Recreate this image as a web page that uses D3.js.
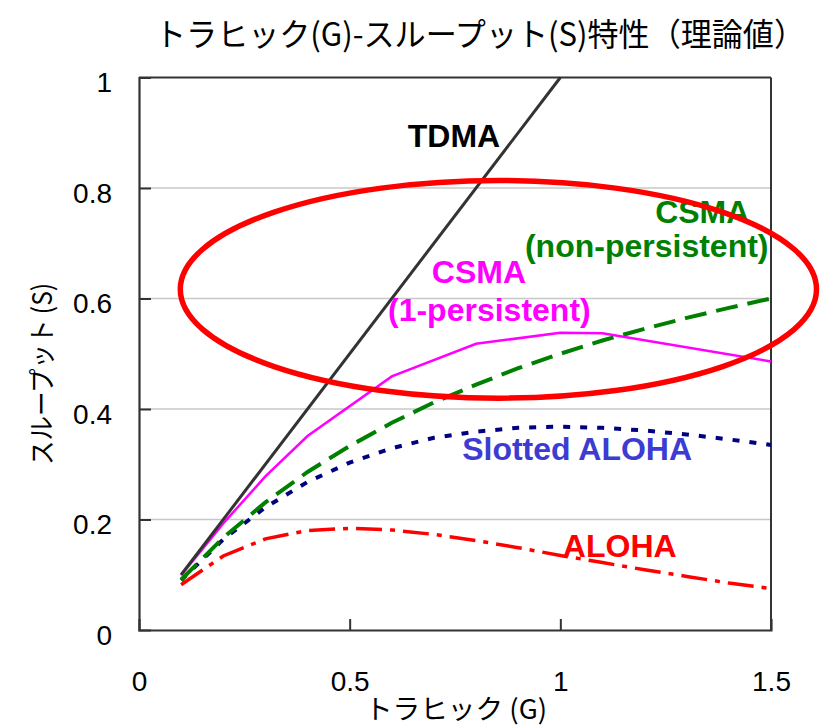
<!DOCTYPE html>
<html>
<head>
<meta charset="utf-8">
<script src="https://cdn.jsdelivr.net/npm/d3@7"></script>
<style>
  html, body { margin: 0; padding: 0; background: #fff; }
  svg { display: block; }
</style>
</head>
<body>
<svg id="chart" width="838" height="728"></svg>
<script>
// ---- data ----
const gValues = [0.1, 0.2, 0.3, 0.4, 0.5, 0.6, 0.7, 0.8, 0.9, 1.0, 1.1, 1.2, 1.3, 1.4, 1.5];
const alohaS = [0.082, 0.134, 0.165, 0.180, 0.184, 0.181, 0.173, 0.162, 0.149, 0.135, 0.122, 0.109, 0.097, 0.085, 0.075];
const slottedAlohaS = [0.090, 0.164, 0.222, 0.268, 0.303, 0.329, 0.348, 0.359, 0.366, 0.368, 0.366, 0.361, 0.354, 0.345, 0.335];
const csmaNonPersistentS = [0.091, 0.167, 0.231, 0.286, 0.333, 0.375, 0.412, 0.444, 0.474, 0.500, 0.524, 0.545, 0.565, 0.583, 0.600];
const csma1G = [0.1, 0.2, 0.3, 0.4, 0.6, 0.8, 1.0, 1.1, 1.5];
const csma1S = [0.099, 0.193, 0.278, 0.351, 0.459, 0.518, 0.538, 0.537, 0.486];
const tdmaG = [0.1, 1.0];
const tdmaS = [0.1, 1.0];
const xTicks = [0, 0.5, 1, 1.5];
const yTicks = [0, 0.2, 0.4, 0.6, 0.8, 1];
const titleText = "トラヒック(G)-スループット(S)特性（理論値）";
const xTitle = "トラヒック (G)";
const yTitle = "スループット (S)";

// ---- layout ----
const svg = d3.select("#chart");
const x = d3.scaleLinear().domain([0, 1.5]).range([139, 771]);
const y = d3.scaleLinear().domain([0, 1]).range([630, 77.5]);
const latin = "Arial, 'Liberation Sans', sans-serif";
const cjk = "'Noto Sans CJK JP', sans-serif";

// gridlines
svg.append("g").selectAll("line")
  .data(yTicks.filter(d => d > 0 && d < 1))
  .join("line")
  .attr("x1", x(0)).attr("x2", x(1.5))
  .attr("y1", d => y(d)).attr("y2", d => y(d))
  .attr("stroke", "#c8c8c8").attr("stroke-width", 1.5);

// frame top/right
svg.append("line").attr("x1", x(0)).attr("x2", x(1.5)).attr("y1", y(1)).attr("y2", y(1))
  .attr("stroke", "#333").attr("stroke-width", 2);
svg.append("line").attr("x1", x(1.5)).attr("x2", x(1.5)).attr("y1", y(1)).attr("y2", y(0))
  .attr("stroke", "#333").attr("stroke-width", 2);

// axes
const xAxis = d3.axisBottom(x).tickValues(xTicks).tickSize(-11).tickPadding(0).tickFormat(d3.format("~g"));
const yAxis = d3.axisLeft(y).tickValues(yTicks).tickSize(-12).tickPadding(0).tickFormat(d3.format("~g"));

const gx = svg.append("g").attr("transform", `translate(0,${y(0)})`).call(xAxis);
gx.select(".domain").attr("stroke", "#333").attr("stroke-width", 2.2);
gx.selectAll(".tick line").attr("stroke", "#333").attr("stroke-width", 2)
  .filter(d => d === 0 || d === 1.5).remove();
gx.selectAll(".tick text").attr("font-family", latin).attr("font-size", 28).attr("fill", "#000")
  .attr("y", 61).attr("dy", 0);

const gy = svg.append("g").attr("transform", `translate(${x(0)},0)`).call(yAxis);
gy.select(".domain").attr("stroke", "#333").attr("stroke-width", 2.2);
gy.selectAll(".tick line").attr("stroke", "#333").attr("stroke-width", 2)
  .filter(d => d === 0 || d === 1).remove();
gy.selectAll(".tick text").attr("font-family", latin).attr("font-size", 28).attr("fill", "#000")
  .attr("x", -27).attr("dy", "0.5em");

// curves
const line = d3.line().x(d => x(d[0])).y(d => y(d[1]));
const zip = (a, b) => a.map((v, i) => [v, b[i]]);

svg.append("path").datum(zip(gValues, alohaS)).attr("d", line)
  .attr("fill", "none").attr("stroke", "#ff0000").attr("stroke-width", 3.5)
  .attr("stroke-dasharray", "26,8,5,8");
svg.append("path").datum(zip(gValues, slottedAlohaS)).attr("d", line)
  .attr("fill", "none").attr("stroke", "#000080").attr("stroke-width", 4)
  .attr("stroke-dasharray", "7,10");
svg.append("path").datum(zip(gValues, csmaNonPersistentS)).attr("d", line)
  .attr("fill", "none").attr("stroke", "#008000").attr("stroke-width", 4)
  .attr("stroke-dasharray", "22,10");
svg.append("path").datum(zip(csma1G, csma1S)).attr("d", line)
  .attr("fill", "none").attr("stroke", "#ff00ff").attr("stroke-width", 2.5);
svg.append("path").datum(zip(tdmaG, tdmaS)).attr("d", line)
  .attr("fill", "none").attr("stroke", "#333").attr("stroke-width", 3);

// series labels
const labels = [
  { t: "TDMA", g: 0.638, s: 0.874, c: "#000" },
  { t: "CSMA", g: 0.695, s: 0.628, c: "#ff00ff" },
  { t: "(1-persistent)", g: 0.591, s: 0.559, c: "#ff00ff" },
  { t: "CSMA", g: 1.225, s: 0.737, c: "#008000" },
  { t: "(non-persistent)", g: 0.916, s: 0.675, c: "#008000" },
  { t: "Slotted ALOHA", g: 0.767, s: 0.308, c: "#3c3cd2" },
  { t: "ALOHA", g: 1.006, s: 0.132, c: "#ff0000" }
];
svg.append("g").selectAll("text").data(labels).join("text")
  .attr("x", d => x(d.g)).attr("y", d => y(d.s))
  .attr("font-family", latin).attr("font-weight", "bold").attr("font-size", 32)
  .attr("fill", d => d.c).text(d => d.t);

// red highlight ellipse
const ell = { g: 0.853, s: 0.6166, rg: 0.755, rs: 0.197 };
svg.append("ellipse")
  .attr("cx", x(ell.g)).attr("cy", y(ell.s))
  .attr("rx", x(ell.rg) - x(0)).attr("ry", y(0) - y(ell.rs))
  .attr("fill", "none").attr("stroke", "#ff0000").attr("stroke-width", 5.5);

// titles
svg.append("text").attr("x", 155).attr("y", 46)
  .attr("font-family", cjk).attr("font-size", 32).attr("fill", "#000")
  .attr("textLength", 650).attr("lengthAdjust", "spacingAndGlyphs")
  .text(titleText);
svg.append("text").attr("x", 365).attr("y", 719)
  .attr("font-family", cjk).attr("font-size", 27).attr("fill", "#000")
  .attr("textLength", 182).attr("lengthAdjust", "spacingAndGlyphs")
  .text(xTitle);
svg.append("text").attr("transform", "translate(52,465) rotate(-90)")
  .attr("font-family", cjk).attr("font-size", 27).attr("fill", "#000")
  .attr("textLength", 182).attr("lengthAdjust", "spacingAndGlyphs")
  .text(yTitle);
</script>
</body>
</html>
